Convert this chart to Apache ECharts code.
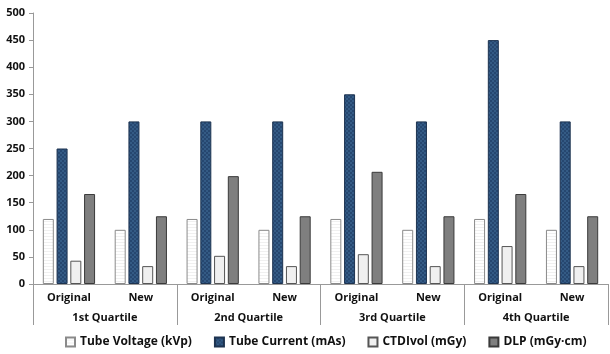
<!DOCTYPE html>
<html>
<head>
<meta charset="utf-8">
<script src="https://cdn.jsdelivr.net/npm/echarts@6/dist/echarts.min.js"></script>
<style>
  html, body { margin: 0; padding: 0; background: #fff; }
  #chart { width: 610px; height: 354px; }
</style>
</head>
<body>
<div id="chart"></div>
<script>
// data
var categories = ['Original', 'New', 'Original', 'New', 'Original', 'New', 'Original', 'New'];
var quartiles = ['1st Quartile', '2nd Quartile', '3rd Quartile', '4th Quartile'];
var yTicks = [0, 50, 100, 150, 200, 250, 300, 350, 400, 450, 500];
var tubeVoltage = [120, 100, 120, 100, 120, 100, 120, 100];
var tubeCurrent = [250, 300, 300, 300, 350, 300, 450, 300];
var ctdiVol = [43, 33, 52, 33, 55, 33, 70, 33];
var dlp = [166, 125, 199, 125, 207, 125, 166, 125];

// small canvas patterns, like the excel fills
function stripes() {
  var c = document.createElement('canvas');
  c.width = 4; c.height = 3;
  var ctx = c.getContext('2d');
  ctx.fillStyle = '#ffffff';
  ctx.fillRect(0, 0, 4, 3);
  ctx.fillStyle = '#f0f0f0';
  ctx.fillRect(0, 2, 4, 1);
  return c;
}
function checker() {
  var c = document.createElement('canvas');
  c.width = 4; c.height = 4;
  var ctx = c.getContext('2d');
  ctx.fillStyle = '#264770';
  ctx.fillRect(0, 0, 4, 4);
  ctx.fillStyle = '#345b85';
  ctx.fillRect(0, 0, 2, 2);
  ctx.fillRect(2, 2, 2, 2);
  return c;
}

var font = '"Open Sans", "Noto Sans", sans-serif';
var chart = echarts.init(document.getElementById('chart'));

function bar(name, data, fill, border) {
  return {
    name: name,
    type: 'bar',
    data: data,
    barWidth: 11,
    barGap: '25%',
    itemStyle: { color: fill, borderColor: border, borderWidth: 1 }
  };
}

chart.setOption({
  animation: false,
  textStyle: { fontFamily: font },
  grid: { left: 33, right: 2, top: 13, bottom: 70 },
  legend: {
    top: 331,
    left: 60,
    icon: 'rect',
    itemWidth: 9,
    itemHeight: 9,
    itemGap: 22,
    textStyle: { fontSize: 12, fontWeight: 'bold', color: '#111', fontFamily: font },
    data: ['Tube Voltage (kVp)', 'Tube Current (mAs)', 'CTDIvol (mGy)', 'DLP (mGy·cm)']
  },
  xAxis: [
    {
      type: 'category',
      data: categories,
      axisLine: { lineStyle: { color: '#999' } },
      axisTick: { show: false },
      axisLabel: { color: '#111', fontSize: 11, fontWeight: 'bold', margin: 8 }
    },
    {
      type: 'category',
      data: quartiles,
      position: 'bottom',
      offset: 0,
      axisLine: { show: false },
      axisTick: { show: true, length: 41, lineStyle: { color: '#999' } },
      axisLabel: { color: '#111', fontSize: 11, fontWeight: 'bold', margin: 28 }
    }
  ],
  yAxis: {
    type: 'value',
    min: yTicks[0],
    max: yTicks[yTicks.length - 1],
    interval: 50,
    splitLine: { show: false },
    axisLine: { show: true, lineStyle: { color: '#999' } },
    axisTick: { show: true, length: 4, lineStyle: { color: '#999' } },
    axisLabel: { color: '#111', fontSize: 11, fontWeight: 'bold', margin: 8 }
  },
  series: [
    bar('Tube Voltage (kVp)', tubeVoltage, { image: stripes(), repeat: 'repeat' }, '#8a8a8a'),
    bar('Tube Current (mAs)', tubeCurrent, { image: checker(), repeat: 'repeat' }, '#1d3350'),
    bar('CTDIvol (mGy)', ctdiVol, '#f0f0f0', '#555'),
    bar('DLP (mGy·cm)', dlp, '#7f7f7f', '#3a3a3a')
  ]
});
</script>
</body>
</html>
